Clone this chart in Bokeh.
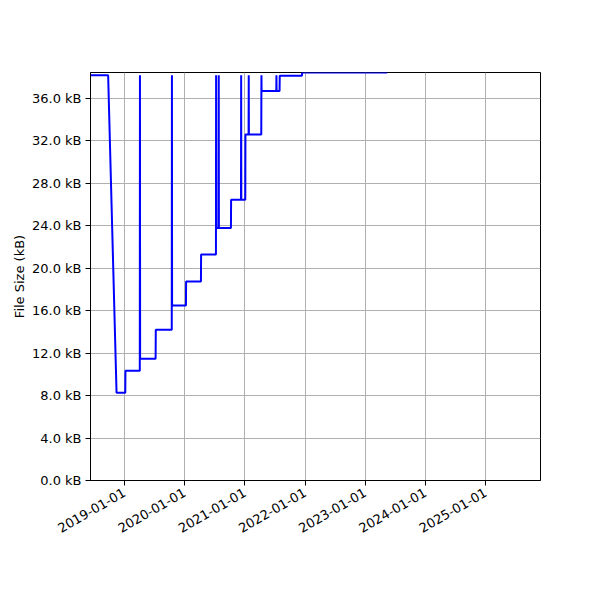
import math
import pandas as pd
from bokeh.plotting import figure
from bokeh.models import FixedTicker, DatetimeTickFormatter, PrintfTickFormatter, Range1d
from bokeh.embed import file_html
from bokeh.resources import INLINE

# File size history (kB)
dates = [
    "2018-06-09", "2018-09-24", "2018-11-14", "2019-01-06", "2019-01-07",
    "2019-04-04", "2019-04-05", "2019-04-06", "2019-07-09", "2019-07-10",
    "2019-10-15", "2019-10-16", "2019-10-17", "2020-01-09", "2020-01-10",
    "2020-04-09", "2020-04-10", "2020-07-09", "2020-07-10", "2020-07-11",
    "2020-07-25", "2020-07-26", "2020-07-27", "2020-10-08", "2020-10-09",
    "2020-12-08", "2020-12-09", "2020-12-10", "2021-01-03", "2021-01-04",
    "2021-01-23", "2021-01-24", "2021-01-25", "2021-04-10", "2021-04-11",
    "2021-04-12", "2021-07-10", "2021-07-11", "2021-07-12", "2021-07-30",
    "2021-07-31", "2021-12-13", "2021-12-14", "2023-05-14",
]
sizes_kb = [
    38.2, 38.2, 8.27, 8.27, 10.34,
    10.34, 38.2, 11.47, 11.47, 14.2,
    14.2, 38.2, 16.5, 16.5, 18.75,
    18.75, 21.3, 21.3, 38.2, 23.8,
    23.8, 38.2, 23.8, 23.8, 26.45,
    26.45, 38.2, 26.45, 26.45, 32.6,
    32.6, 38.2, 32.6, 32.6, 38.2,
    36.7, 36.7, 38.2, 36.7, 36.7,
    38.15, 38.15, 38.45, 38.45,
]
y_ticks = [0, 4, 8, 12, 16, 20, 24, 28, 32, 36]
x_tick_years = [2019, 2020, 2021, 2022, 2023, 2024, 2025]
x_start, x_end = "2018-06-09", "2025-11-29"

x = pd.to_datetime(dates)

p = figure(
    width=592, height=592, x_axis_type="datetime",
    output_backend="svg", toolbar_location=None,
    x_range=Range1d(pd.Timestamp(x_start), pd.Timestamp(x_end)),
    y_range=Range1d(0, max(sizes_kb)),
    min_border_left=90, min_border_right=52, min_border_top=72, min_border_bottom=112,
)
p.background_fill_color = "white"
p.border_fill_color = "white"
p.outline_line_color = "black"
p.outline_line_width = 1
p.outline_line_alpha = 1

p.line(x, sizes_kb, line_color="#0000ff", line_width=2)

p.xaxis.ticker = FixedTicker(ticks=[pd.Timestamp(f"{yr}-01-01").timestamp() * 1000 for yr in x_tick_years])
fmt = "%Y-%m-%d"
p.xaxis.formatter = DatetimeTickFormatter(
    microseconds=fmt, milliseconds=fmt, seconds=fmt, minsec=fmt, minutes=fmt,
    hourmin=fmt, hours=fmt, days=fmt, months=fmt, years=fmt,
)
p.xaxis.major_label_orientation = math.pi / 6
p.yaxis.ticker = FixedTicker(ticks=y_ticks)
p.yaxis.formatter = PrintfTickFormatter(format="%.1f kB")
p.yaxis.axis_label = "File Size (kB)"

for ax in (p.xaxis, p.yaxis):
    ax.axis_line_color = "black"
    ax.major_tick_line_color = "black"
    ax.major_tick_in = 0
    ax.major_tick_out = 5
    ax.minor_tick_line_color = None
    ax.major_label_text_font = "DejaVu Sans"
    ax.major_label_text_font_size = "13px"
    ax.major_label_text_color = "black"
    ax.major_label_standoff = 4
    ax.axis_label_text_font = "DejaVu Sans"
    ax.axis_label_text_font_size = "13px"
    ax.axis_label_text_font_style = "normal"
    ax.axis_label_text_color = "black"

p.yaxis.axis_label_standoff = 2
p.xaxis.major_label_standoff = 6

p.grid.grid_line_color = "#b0b0b0"
p.grid.grid_line_width = 1

open("out.html", "w").write(file_html(p, INLINE))
